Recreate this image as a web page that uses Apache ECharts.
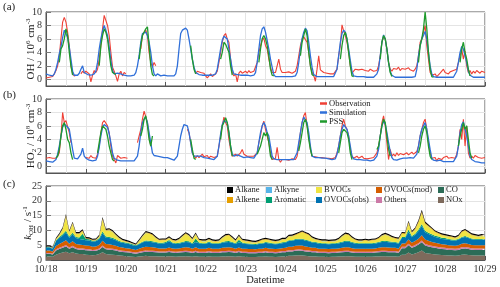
<!DOCTYPE html>
<html><head><meta charset="utf-8">
<script src="https://cdn.jsdelivr.net/npm/echarts@6/dist/echarts.min.js"></script>
<style>html,body{margin:0;padding:0;background:#fff}#c{width:500px;height:287px}</style>
</head><body><div id="c"></div>
<script>
const xTickLabels = ['10/18','10/19','10/20','10/21','10/22','10/23','10/24','10/25','10/26','10/27','10/28','10/29'];
const yTicksAB = [0, 2, 4, 6, 8, 10];
const yTicksC = [0, 5, 10, 15, 20, 25];

// hourly from 10/18 00:00 (265 values)
const ohSim = [
0.8,0.7,0.6,0.5,0.5,0.8,1.5,2.5,3.8,4.8,6.2,7.3,7.5,6.2,4.8,3.0,1.2,0.6,0.5,0.6,0.9,1.5,2.0,1.0,
0.8,0.7,0.7,0.6,0.6,0.8,1.2,2.5,4.5,6.0,7.2,8.0,7.8,6.5,4.8,2.8,1.3,0.8,0.8,0.9,1.0,0.8,0.7,0.6,
0.6,0.5,0.5,0.5,0.5,0.6,1.0,2.0,3.5,5.5,6.8,7.0,7.0,6.5,5.5,4.0,2.0,0.8,0.5,0.8,0.6,0.5,0.7,0.6,
0.5,0.5,0.5,0.5,0.5,0.5,0.8,2.0,4.5,6.8,7.3,7.5,7.6,7.3,6.0,4.5,3.0,1.8,1.0,0.8,0.7,0.7,0.6,0.6,
0.6,0.6,0.6,0.6,0.6,0.7,0.8,1.5,3.0,4.5,5.8,6.4,6.5,6.0,4.5,3.0,1.5,0.8,0.7,0.7,0.6,0.6,0.6,0.6,
0.6,0.6,0.6,0.5,0.5,0.6,1.0,2.5,4.5,6.5,7.5,7.8,7.0,5.8,4.5,3.0,1.8,0.7,0.4,0.4,0.4,0.4,0.4,0.4,
0.4,0.4,0.4,0.4,0.4,0.4,0.5,1.0,2.5,4.5,6.0,7.0,7.6,7.2,5.5,3.5,1.8,0.7,0.5,0.4,0.4,0.4,0.4,0.4,
0.4,0.4,0.4,0.4,0.4,0.4,0.6,1.5,3.5,5.5,6.8,7.3,7.0,6.0,4.5,2.8,1.2,0.5,0.4,0.4,0.4,0.4,0.4,0.4,
0.3,0.3,0.3,0.3,0.3,0.3,0.4,0.8,1.5,3.5,5.5,6.6,6.0,4.5,2.5,1.2,0.6,0.4,0.3,0.3,0.3,0.3,0.3,0.3,
0.3,0.3,0.3,0.3,0.3,0.3,0.4,1.5,3.5,5.0,6.0,6.5,7.1,6.0,4.0,2.0,0.8,0.4,0.3,0.3,0.3,0.3,0.3,0.3,
0.3,0.3,0.3,0.3,0.3,0.3,0.5,1.2,2.5,4.0,4.9,4.5,3.5,2.5,1.2,0.6,0.4,0.3,0.3,0.3,0.3,0.3,0.3,0.3,
0.3];
const ohObs = [
0.2,0.1,0.3,0.2,0.4,0.8,1.3,2.0,3.5,6.0,8.5,9.2,8.5,7.0,5.0,2.0,0.8,0.5,0.6,null,null,0.8,1.2,0.9,
1.2,1.0,0.8,-0.4,0.6,1.3,1.0,1.5,3.0,5.0,7.5,9.5,9.6,8.0,6.5,4.0,1.8,1.2,0.5,-0.3,0.8,1.2,0.5,1.0,
0.8,null,null,null,null,null,null,null,null,4.5,6.5,7.0,7.3,6.5,4.0,2.5,1.8,2.5,2.0,null,null,null,null,null,
null,null,null,null,null,null,null,null,null,null,null,null,null,null,null,null,null,null,0.8,1.2,1.3,1.0,1.2,0.9,
0.5,0.2,0.5,0.8,0.4,0.6,0.8,1.2,2.5,4.0,5.5,6.5,6.8,6.0,5.5,3.0,1.0,0.5,0.8,-0.4,0.9,1.2,0.9,1.0,
1.2,0.9,1.3,1.0,1.1,1.2,1.4,2.5,4.0,5.0,5.8,6.1,5.0,4.5,3.0,1.8,1.0,0.8,1.0,1.2,3.0,1.5,1.0,1.2,
1.0,0.8,1.1,1.2,0.9,1.0,1.2,2.0,3.5,5.0,6.0,6.3,6.5,5.5,4.0,2.0,1.0,0.6,-0.3,1.5,3.5,1.4,1.2,1.0,
0.8,0.9,0.7,0.8,1.0,0.8,0.9,1.5,3.5,5.0,8.1,7.2,6.5,5.5,4.0,2.0,0.9,1.2,1.5,1.3,1.4,1.2,1.5,1.3,
1.3,1.4,1.2,1.5,1.3,1.2,1.4,1.3,2.0,3.5,5.5,6.3,6.0,4.5,2.5,1.5,1.2,1.6,1.4,1.5,1.8,1.3,1.6,1.4,
1.5,1.3,1.7,1.4,1.6,1.2,1.5,2.0,3.5,5.5,6.0,7.0,8.0,5.0,3.0,1.0,0.6,0.5,0.8,0.4,0.6,0.9,1.0,1.5,
1.0,1.2,0.8,1.1,0.9,1.3,1.2,1.5,2.5,3.5,4.5,3.0,4.2,2.0,1.0,1.3,0.8,1.2,0.9,1.3,1.1,0.9,1.2,1.0,
1.0];
// [hour, value] pairs
const ohPss = [
[8,2.5],[9,4.5],[10,5.0],[11,6.0],[12,7.5],[13,6.5],[14,4.0],[15,2.0],[16,0.6],
[32,2.0],[33,5.0],[34,6.5],[35,7.5],[36,7.0],[37,6.0],[38,4.0],[39,2.0],[40,1.0],[41,0.8],[42,0.7],
[56,3.0],[57,5.0],[58,6.5],[59,7.0],[60,7.5],[61,7.8],[62,5.0],[63,2.0],[64,0.7],[65,0.5],
[87,5.0],[88,3.0],[89,1.5],[90,0.8],
[105,3.0],[106,4.0],[107,5.5],[108,5.2],[109,5.0],[110,4.0],[111,2.0],[112,0.6],
[128,2.5],[129,4.5],[130,6.0],[131,6.5],[132,6.0],[133,5.0],[134,3.5],[135,1.5],[136,0.6],[137,0.5],
[153,3.5],[154,5.5],[155,6.5],[156,7.5],[157,6.5],[158,4.0],[159,2.0],[160,0.7],[161,0.5],
[177,3.0],[178,5.0],[179,6.5],[180,7.0],[181,6.0],[182,4.0],[183,2.0],[184,0.5],[185,0.4],
[201,3.0],[202,5.5],[203,6.5],[204,6.0],[205,4.5],[206,2.5],[207,1.0],[208,0.4],
[224,2.5],[225,5.0],[226,6.0],[227,7.5],[228,10.0],[229,7.5],[230,4.0],[231,1.5],[232,0.4],[233,0.3],
[249,2.5],[250,4.5],[251,5.5],[252,4.0],[253,3.0],[254,1.5],[255,0.5]];

const ho2Sim = [
0.8,0.7,0.7,0.6,0.6,0.7,1.0,1.8,3.0,4.5,5.8,6.3,6.5,5.8,5.5,4.0,2.5,1.2,1.0,1.1,1.2,1.8,2.7,1.5,
1.2,1.0,0.9,0.9,0.8,0.8,0.9,1.5,2.8,4.5,5.8,6.2,6.3,5.8,4.8,3.5,2.0,1.2,1.0,0.9,0.9,0.8,0.8,0.8,
0.8,0.8,0.8,0.8,0.8,0.8,0.9,1.5,3.0,5.0,6.5,7.0,7.3,6.5,5.0,3.5,2.0,1.6,1.5,1.5,1.5,1.4,1.4,1.3,
1.3,1.3,1.2,1.1,1.0,0.9,1.0,1.5,3.0,4.5,5.5,6.2,6.3,6.0,5.0,3.5,2.0,1.5,1.6,1.5,1.4,1.5,1.4,1.3,
1.3,1.2,1.2,1.1,1.0,1.0,0.9,1.5,3.0,4.8,6.2,6.8,7.0,6.5,5.0,3.0,1.8,1.5,1.6,1.7,1.6,1.5,1.4,1.3,
1.5,1.4,1.3,1.3,1.2,1.2,1.4,2.0,3.5,5.0,6.0,6.5,6.0,5.0,4.5,3.0,1.5,1.1,1.0,1.0,1.1,1.0,1.0,1.0,
1.0,1.0,1.0,1.0,1.0,1.0,1.2,2.0,3.5,5.0,6.5,7.3,7.3,6.5,5.0,3.0,1.5,1.3,1.3,1.2,1.3,1.2,1.2,1.2,
1.2,1.1,1.1,1.0,1.0,1.0,1.1,1.8,3.0,4.5,5.5,6.2,6.0,5.5,4.5,3.0,1.5,1.1,1.0,1.0,1.0,1.0,0.9,0.9,
0.9,0.9,0.8,0.8,0.8,0.9,1.0,1.5,2.5,4.5,6.0,6.7,6.3,5.0,3.5,2.2,1.3,1.0,0.9,0.9,1.0,1.1,1.3,1.2,
1.2,1.2,1.3,1.3,1.2,1.2,1.3,1.8,3.0,4.5,5.5,6.0,6.5,5.5,4.0,2.5,1.2,0.9,0.8,0.8,0.8,0.9,0.8,0.7,
0.7,0.7,0.7,0.7,0.7,0.7,0.8,1.5,3.0,5.0,6.2,6.6,5.5,4.5,3.0,1.5,1.0,0.8,0.7,0.6,0.6,0.5,0.5,0.5,
0.5];
const ho2Obs = [
1.2,1.0,1.3,1.1,1.2,1.4,1.2,1.5,2.0,4.5,8.0,6.5,6.8,7.0,5.0,3.5,null,null,null,null,null,null,null,null,
1.3,1.5,1.2,1.6,1.3,1.5,1.2,1.8,3.0,5.0,6.5,6.8,7.0,6.0,5.0,3.0,1.5,1.0,0.5,1.6,1.8,1.2,1.0,1.3,
1.5,1.2,null,null,null,null,null,3.5,4.5,5.5,7.0,8.2,8.0,6.5,4.5,3.0,null,null,null,null,null,null,null,null,
null,null,null,null,null,null,null,null,null,null,null,null,null,5.5,5.0,3.5,2.0,1.5,1.2,1.6,1.3,1.5,1.8,1.4,
1.3,1.6,1.2,1.5,1.4,1.3,1.2,1.5,3.0,4.5,6.0,7.3,6.5,6.0,4.0,2.5,1.5,1.6,1.8,1.5,1.7,2.0,2.5,1.8,
1.6,1.5,1.4,1.5,1.6,1.5,1.5,2.0,3.5,4.5,6.0,6.7,5.5,4.5,3.5,2.0,1.0,0.8,1.2,2.8,1.0,0.6,1.0,1.1,
1.0,1.1,0.9,1.0,1.1,1.0,1.0,1.5,3.0,5.0,6.5,7.5,8.0,6.0,4.5,2.5,1.5,1.3,1.4,1.2,1.3,1.4,1.3,1.2,
1.2,1.1,1.2,1.3,1.1,1.2,1.3,2.0,3.0,4.5,6.0,7.0,6.0,5.5,4.5,2.5,1.5,1.2,1.4,1.5,1.2,1.3,1.5,1.2,
1.2,1.1,1.3,1.2,1.4,1.3,1.5,2.0,3.0,4.5,6.5,7.5,6.0,3.5,1.0,2.5,1.5,1.8,1.5,2.0,1.6,1.9,2.1,1.7,
1.8,2.0,1.7,1.9,2.1,1.8,1.9,2.2,3.0,4.5,5.5,6.5,7.0,5.5,3.5,2.0,1.2,1.0,1.3,0.8,1.2,1.4,1.0,1.3,
1.3,1.5,1.2,1.4,1.3,1.5,1.2,1.8,3.0,5.5,4.0,7.0,3.0,6.0,2.0,1.2,1.5,1.2,1.6,1.4,1.3,1.5,1.2,1.4,
1.3];
const ho2Pss = [
[6,1.2],[7,1.5],[8,2.5],[9,4.5],[10,6.0],[11,6.5],[12,5.5],[13,4.0],[14,3.5],[15,2.0],[16,1.0],
[31,2.0],[32,3.5],[33,5.0],[34,6.0],[35,6.0],[36,5.5],[37,4.5],[38,3.0],[39,2.0],[40,1.0],[41,0.8],
[57,4.5],[58,5.5],[59,7.0],[60,7.5],[61,6.0],[62,4.0],[63,3.0],[64,4.5],
[87,4.0],[88,2.5],[89,1.2],[90,1.0],
[105,4.0],[106,6.0],[107,6.5],[108,7.2],[109,6.5],[110,5.0],[111,3.0],[112,1.5],
[127,1.8],[128,2.0],[129,3.0],[130,4.0],[131,5.0],[132,4.5],[133,5.0],[134,3.5],[135,1.5],[136,1.0],
[152,2.3],[153,3.5],[154,5.0],[155,6.5],[156,7.0],[157,6.0],[158,4.0],[159,2.5],[160,1.5],
[176,2.0],[177,3.5],[178,5.0],[179,5.5],[180,5.5],[181,5.0],[182,4.0],[183,2.0],[184,1.0],
[199,2.5],[200,3.0],[201,4.5],[202,6.0],[203,7.0],[204,6.5],[205,4.5],[206,2.5],[207,1.5],
[224,2.0],[225,3.0],[226,4.5],[227,5.5],[228,6.0],[229,5.0],[230,3.0],[231,1.5],[232,1.0],
[248,3.0],[249,4.5],[250,5.5],[251,6.5],[252,5.5],[253,6.0],[254,4.0],[255,2.0],[256,1.2]];

// kOH components, every 2 h from 10/18 00:00 (133 values)
const kNOx = [
1.2,1.2,1.1,1.8,2.2,2.5,2.8,2.3,2.6,2.2,2.0,2.0,
1.8,1.7,1.6,1.7,2.0,2.6,2.0,1.9,1.8,1.7,1.5,1.4,
1.3,1.2,1.1,1.0,1.2,1.3,1.4,1.3,1.3,1.3,1.2,1.2,
1.2,1.3,1.2,1.1,1.2,1.2,1.3,1.2,1.1,1.3,1.1,1.1,
1.1,1.2,1.1,1.1,1.1,1.2,1.2,1.3,1.2,1.1,1.3,1.1,
1.1,1.0,1.0,1.0,1.1,1.1,1.2,1.1,1.1,1.0,1.1,1.2,
1.2,1.4,1.4,1.5,1.6,1.5,1.4,1.3,1.2,1.2,1.1,1.1,
1.1,1.0,1.1,1.1,1.2,1.2,1.3,1.3,1.2,1.1,1.1,1.1,
1.1,1.1,1.1,1.2,1.2,1.3,1.3,1.2,1.2,1.2,1.1,1.8,
1.8,2.5,1.9,2.2,2.6,3.2,2.4,2.2,2.0,1.9,1.8,1.7,
1.6,1.5,1.5,1.4,1.5,1.8,1.9,1.7,1.6,1.5,1.5,1.5,
1.5];
const kCO = [
0.9,0.9,0.8,1.4,1.5,1.6,1.8,1.5,1.7,1.5,1.5,1.5,
1.5,1.5,1.4,1.4,1.5,1.8,1.6,1.6,1.6,1.5,1.4,1.3,
1.3,1.3,1.2,1.1,1.2,1.3,1.4,1.4,1.4,1.3,1.3,1.3,
1.3,1.4,1.3,1.3,1.3,1.4,1.4,1.4,1.3,1.4,1.3,1.3,
1.3,1.4,1.3,1.3,1.3,1.4,1.4,1.4,1.4,1.3,1.4,1.3,
1.3,1.3,1.3,1.3,1.3,1.3,1.4,1.3,1.3,1.3,1.3,1.4,
1.4,1.5,1.5,1.6,1.6,1.6,1.5,1.5,1.4,1.4,1.3,1.3,
1.3,1.3,1.3,1.3,1.3,1.4,1.4,1.4,1.3,1.3,1.3,1.3,
1.3,1.3,1.3,1.3,1.4,1.4,1.4,1.4,1.4,1.4,1.3,2.2,
2.2,2.5,2.2,2.4,2.6,2.8,2.5,2.4,2.3,2.2,2.1,2.0,
2.0,1.9,1.9,1.9,1.9,2.0,2.0,2.0,1.9,1.9,1.9,1.9,
1.9];
const kOthers = [
0.3,0.3,0.3,0.4,0.4,0.5,0.5,0.4,0.5,0.4,0.4,0.4,
0.4,0.4,0.4,0.4,0.4,0.5,0.4,0.4,0.4,0.4,0.4,0.4,
0.4,0.4,0.4,0.4,0.4,0.4,0.4,0.4,0.4,0.4,0.4,0.4,
0.4,0.4,0.4,0.4,0.4,0.4,0.4,0.4,0.4,0.4,0.4,0.4,
0.4,0.4,0.4,0.4,0.4,0.4,0.4,0.4,0.4,0.4,0.4,0.4,
0.4,0.4,0.4,0.4,0.4,0.4,0.4,0.4,0.4,0.4,0.4,0.4,
0.4,0.4,0.4,0.4,0.4,0.4,0.4,0.4,0.4,0.4,0.4,0.4,
0.4,0.4,0.4,0.4,0.4,0.4,0.4,0.4,0.4,0.4,0.4,0.4,
0.4,0.4,0.4,0.4,0.4,0.4,0.4,0.4,0.4,0.4,0.4,0.5,
0.5,0.5,0.5,0.5,0.5,0.6,0.5,0.5,0.5,0.5,0.5,0.5,
0.5,0.5,0.5,0.5,0.5,0.5,0.5,0.5,0.5,0.5,0.5,0.5,
0.5];
const kOVOCsMod = [
0.8,0.8,0.7,1.1,1.3,1.4,1.6,1.3,1.5,1.3,1.3,1.2,
1.2,1.2,1.1,1.1,1.2,1.6,1.4,1.4,1.3,1.2,1.1,1.1,
1.0,1.0,0.9,0.9,1.0,1.2,1.3,1.3,1.2,1.1,1.0,1.0,
1.0,1.1,1.0,1.0,1.0,1.1,1.2,1.2,1.0,1.2,1.0,1.0,
1.0,1.1,1.0,1.0,1.0,1.1,1.2,1.2,1.1,1.0,1.1,1.0,
1.0,1.0,1.0,0.9,1.0,1.0,1.1,1.1,1.0,1.0,1.0,1.0,
1.1,1.2,1.2,1.3,1.3,1.4,1.3,1.2,1.1,1.1,1.0,1.0,
1.0,1.0,1.0,1.0,1.0,1.1,1.2,1.2,1.1,1.0,1.0,1.0,
1.0,1.0,1.0,1.0,1.1,1.2,1.2,1.2,1.1,1.1,1.0,1.1,
1.1,1.4,1.2,1.3,1.5,1.8,1.5,1.4,1.3,1.2,1.2,1.1,
1.1,1.1,1.0,1.0,1.1,1.2,1.3,1.2,1.1,1.1,1.1,1.1,
1.1];
const kOVOCsObs = [
1.0,1.0,0.9,1.6,2.0,2.2,2.6,2.0,2.3,2.0,1.9,1.8,
1.8,1.8,1.7,1.7,1.9,2.5,2.1,2.1,2.0,1.9,1.7,1.6,
1.6,1.5,1.4,1.3,1.5,1.7,1.8,1.8,1.7,1.7,1.6,1.6,
1.85,2.15,1.75,1.6,1.6,1.7,1.8,1.8,1.6,1.8,1.85,1.6,
1.6,1.85,1.6,1.6,1.6,1.7,1.8,1.8,1.7,1.6,1.8,1.85,
1.6,1.6,1.5,1.5,1.6,1.6,1.7,1.7,1.6,1.6,1.6,1.7,
1.7,1.9,1.9,2.0,2.0,2.0,1.9,1.9,1.8,1.7,1.7,1.6,
1.6,1.6,1.6,1.6,1.7,1.8,1.9,1.9,1.8,1.7,1.6,1.6,
1.6,1.6,1.6,1.6,1.7,1.8,1.9,1.8,1.8,1.7,1.7,1.8,
1.8,2.6,1.9,2.1,2.6,3.2,2.5,2.3,2.2,2.0,1.9,1.8,
1.8,1.8,1.7,1.7,1.8,2.0,2.1,2.0,1.9,1.8,1.8,1.8,
1.8];
const kAromatic = [
0.2,0.2,0.2,0.4,0.4,0.5,0.6,0.4,0.6,0.4,0.5,2.0,
0.4,0.4,0.3,0.3,0.4,0.6,0.4,0.4,0.4,0.3,0.3,0.3,
0.3,0.3,0.3,0.25,0.3,0.3,0.3,0.3,0.3,0.3,0.3,0.3,
0.3,0.4,0.3,0.3,0.3,0.3,0.3,0.3,0.3,1.2,0.3,0.3,
0.3,0.3,0.3,0.3,0.3,0.3,0.3,0.3,0.3,0.3,0.8,0.3,
0.3,0.3,0.3,0.3,0.3,0.3,0.3,0.3,0.3,0.3,0.3,0.3,
0.3,0.3,0.3,0.3,0.3,0.3,0.3,0.3,0.3,0.3,0.3,0.3,
0.3,0.3,0.3,0.3,0.3,0.3,0.3,0.3,0.3,0.3,0.3,0.3,
0.3,0.3,0.3,0.3,0.3,0.3,0.3,0.3,0.3,0.3,0.3,0.4,
0.4,0.8,0.4,0.4,0.5,0.6,0.5,0.4,0.4,0.4,0.4,0.4,
0.4,0.3,0.3,0.3,0.3,0.3,0.3,0.3,0.3,0.3,0.3,0.3,
0.3];
const kBVOCs = [
0,0,0,0.2,0.6,1.6,4.6,1.4,3.0,1.0,1.2,0.8,
0,0,0.05,0.05,0.5,3.9,1.9,2.2,2.0,1.3,0.9,0.4,
0.25,0.15,0.1,0.05,0.75,1.65,2.55,2.35,2.05,1.25,0.75,0.85,
0.6,0.6,0.6,0.65,1.05,1.75,2.35,1.85,1.15,1.35,0.6,0.65,
0.65,0.6,0.65,0.45,0.65,1.25,1.85,1.85,1.25,0.65,1.15,0.6,
0.65,0.55,0.45,0.45,0.45,0.95,0.75,0.75,0.65,0.55,0.65,0.85,
0.75,1.15,1.25,1.25,1.65,2.15,2.05,1.75,1.15,0.75,0.75,0.65,
0.65,0.55,0.55,0.65,0.95,1.65,2.15,1.85,1.25,0.85,0.65,0.65,
0.85,0.65,0.85,0.85,1.05,1.75,2.05,1.85,1.35,1.05,1.15,1.05,
0.95,2.05,1.05,1.35,2.25,3.6,2.25,2.05,1.65,1.15,0.95,0.85,
0.75,0.75,0.75,0.55,0.75,1.55,1.75,1.45,1.05,1.05,0.75,1.05,
0.75];
const kAlkyne = [
0.05,0.05,0.05,0.05,0.05,0.05,0.1,0.05,0.05,0.05,0.05,0.05,
0.05,0.05,0.05,0.05,0.05,0.1,0.05,0.05,0.05,0.05,0.05,0.05,
0.05,0.05,0.05,0.05,0.05,0.05,0.05,0.05,0.05,0.05,0.05,0.05,
0.05,0.05,0.05,0.05,0.05,0.05,0.05,0.05,0.05,0.05,0.05,0.05,
0.05,0.05,0.05,0.05,0.05,0.05,0.05,0.05,0.05,0.05,0.05,0.05,
0.05,0.05,0.05,0.05,0.05,0.05,0.05,0.05,0.05,0.05,0.05,0.05,
0.05,0.05,0.05,0.05,0.05,0.05,0.05,0.05,0.05,0.05,0.05,0.05,
0.05,0.05,0.05,0.05,0.05,0.05,0.05,0.05,0.05,0.05,0.05,0.05,
0.05,0.05,0.05,0.05,0.05,0.05,0.05,0.05,0.05,0.05,0.05,0.05,
0.05,0.05,0.05,0.05,0.05,0.1,0.05,0.05,0.05,0.05,0.05,0.05,
0.05,0.05,0.05,0.05,0.05,0.05,0.05,0.05,0.05,0.05,0.05,0.05,
0.05];
const kAlkene = [
0.15,0.15,0.15,0.2,0.2,0.3,0.4,0.3,0.3,0.2,0.2,0.2,
0.2,0.2,0.2,0.2,0.2,0.4,0.3,0.3,0.2,0.2,0.2,0.2,
0.2,0.2,0.2,0.2,0.2,0.2,0.2,0.2,0.2,0.2,0.2,0.2,
0.2,0.2,0.2,0.2,0.2,0.2,0.2,0.2,0.2,0.2,0.2,0.2,
0.2,0.2,0.2,0.2,0.2,0.2,0.2,0.2,0.2,0.2,0.2,0.2,
0.2,0.2,0.2,0.2,0.2,0.2,0.2,0.2,0.2,0.2,0.2,0.2,
0.2,0.2,0.2,0.2,0.2,0.2,0.2,0.2,0.2,0.2,0.2,0.2,
0.2,0.2,0.2,0.2,0.2,0.2,0.2,0.2,0.2,0.2,0.2,0.2,
0.2,0.2,0.2,0.2,0.2,0.2,0.2,0.2,0.2,0.2,0.2,0.2,
0.2,0.4,0.2,0.3,0.4,0.5,0.3,0.3,0.2,0.2,0.2,0.2,
0.2,0.2,0.2,0.2,0.2,0.2,0.2,0.2,0.2,0.2,0.2,0.2,
0.2];
const kAlkane = [
0.3,0.3,0.3,0.4,0.4,0.4,0.5,0.4,0.4,0.4,0.4,0.4,
0.4,0.4,0.4,0.4,0.4,0.5,0.4,0.4,0.4,0.4,0.4,0.4,
0.4,0.4,0.35,0.3,0.4,0.4,0.4,0.4,0.4,0.4,0.4,0.4,
0.4,0.4,0.4,0.4,0.4,0.4,0.4,0.4,0.4,0.4,0.4,0.4,
0.4,0.4,0.4,0.4,0.4,0.4,0.4,0.4,0.4,0.4,0.4,0.4,
0.4,0.4,0.4,0.4,0.4,0.4,0.4,0.4,0.4,0.4,0.4,0.4,
0.4,0.4,0.4,0.4,0.4,0.4,0.4,0.4,0.4,0.4,0.4,0.4,
0.4,0.4,0.4,0.4,0.4,0.4,0.4,0.4,0.4,0.4,0.4,0.4,
0.4,0.4,0.4,0.4,0.4,0.4,0.4,0.4,0.4,0.4,0.4,0.4,
0.4,0.5,0.4,0.4,0.5,0.6,0.5,0.4,0.4,0.4,0.4,0.4,
0.4,0.4,0.4,0.4,0.4,0.4,0.4,0.4,0.4,0.4,0.4,0.4,
0.4];

const FONT = 'Liberation Serif';
const C_OBS = '#ef4136', C_SIM = '#2f6fd9', C_PSS = '#1f9a2c';
const hourly = arr => arr.map((v, i) => [i, v]);
function withGaps(pairs) {
  const out = [];
  pairs.forEach((p, i) => {
    if (i > 0 && p[0] - pairs[i - 1][0] > 1) out.push([pairs[i - 1][0] + 0.5, null]);
    out.push(p);
  });
  return out;
}
const kHours = kNOx.map((v, i) => String(i * 2));
const gridLine = { show: true, lineStyle: { color: '#e4e4e4', width: 1 } };
function xAx(i) {
  return {
    type: 'value', gridIndex: i, min: 0, max: 264, interval: 24,
    axisLine: { show: true, onZero: false, lineStyle: { color: '#555' } },
    axisTick: { show: true, inside: true, length: 4, lineStyle: { color: '#555' } },
    axisLabel: { show: false },
    splitLine: gridLine,
    minorTick: { show: false, splitNumber: 2 },
    minorSplitLine: gridLine
  };
}
const xAxC = {
  type: 'category', gridIndex: 2, data: kHours, boundaryGap: false,
  axisLine: { show: true, onZero: false, lineStyle: { color: '#555' } },
  axisTick: { show: true, inside: true, length: 4, interval: (idx) => idx % 12 === 0, lineStyle: { color: '#555' } },
  axisLabel: { show: true, interval: (idx) => idx % 12 === 0, margin: 4, fontSize: 10, fontFamily: FONT, color: '#333',
    formatter: v => xTickLabels[Math.round(Number(v) / 24)] },
  splitLine: { show: true, interval: (idx) => idx % 6 === 0, lineStyle: { color: '#e4e4e4', width: 1 } },
  name: 'Datetime', nameLocation: 'middle', nameGap: 15, nameMoveOverlap: false,
  nameTextStyle: { fontSize: 10.5, fontFamily: FONT, color: '#222' }
};
const richName = {
  n: { fontSize: 11, fontFamily: FONT, color: '#222' },
  i: { fontSize: 11, fontFamily: FONT, color: '#222', fontStyle: 'italic' },
  s: { fontSize: 7, fontFamily: FONT, color: '#222', verticalAlign: 'top', padding: [0, 0, 6, 0] },
  b: { fontSize: 7, fontFamily: FONT, color: '#222', verticalAlign: 'bottom', padding: [4, 0, 0, 0] }
};
function yAx(i, min, max, interval, labelStep, ticks, name, gap) {
  return {
    type: 'value', gridIndex: i, min: min, max: max, interval: interval,
    axisLine: { show: true, lineStyle: { color: '#555' } },
    axisTick: { show: true, inside: true, length: 5, customValues: ticks, lineStyle: { color: '#777' } },
    axisLabel: { margin: 4, fontSize: 10, fontFamily: FONT, color: '#333',
      formatter: v => (v >= 0 && Math.abs(v / labelStep - Math.round(v / labelStep)) < 1e-6) ? String(v) : '' },
    splitLine: gridLine,
    name: name, nameLocation: 'middle', nameGap: gap, nameMoveOverlap: false,
    nameTextStyle: { rich: richName }
  };
}
function lineS(name, data, color, xi, w) {
  return { name: name, type: 'line', xAxisIndex: xi, yAxisIndex: xi, data: data,
    showSymbol: false, symbol: 'none', connectNulls: false,
    lineStyle: { color: color, width: w }, itemStyle: { color: color } };
}
const stackDefs = [
  ['NOx', kNOx, '#7e6a5c'],
  ['CO', kCO, '#2c6c57'],
  ['Others', kOthers, '#cc79a7'],
  ['OVOCs(mod)', kOVOCsMod, '#d55e00'],
  ['OVOCs(obs)', kOVOCsObs, '#0072b2'],
  ['Aromatic', kAromatic, '#009e73'],
  ['BVOCs', kBVOCs, '#f0e442'],
  ['Alkyne', kAlkyne, '#56b4e9'],
  ['Alkene', kAlkene, '#e69f00'],
  ['Alkane', kAlkane, '#000000']
];
const stackSeries = stackDefs.map(d => ({
  name: d[0], type: 'line', xAxisIndex: 2, yAxisIndex: 2, stack: 'k',
  data: d[1], showSymbol: false, symbol: 'none',
  lineStyle: { width: 0, color: d[2] }, itemStyle: { color: d[2] },
  areaStyle: { color: d[2], opacity: 1 }
}));
const legText = { fontSize: 8.5, fontFamily: FONT, color: '#222', padding: [0, 0, 0, -3] };
function legCol(left, names) {
  return { orient: 'vertical', left: left, top: 185, padding: 0, itemGap: 0,
    icon: 'rect', itemWidth: 6, itemHeight: 6, data: names,
    textStyle: Object.assign({ lineHeight: 10 }, legText) };
}
const chart = echarts.init(document.getElementById('c'), null, { renderer: 'canvas' });
chart.setOption({
  animation: false,
  backgroundColor: '#fff',
  textStyle: { fontFamily: FONT },
  grid: [
    { left: 46, right: 15, top: 12, height: 74, show: true, borderColor: '#555', borderWidth: 1 },
    { left: 46, right: 15, top: 99, height: 74, show: true, borderColor: '#555', borderWidth: 1 },
    { left: 46, right: 15, top: 186, height: 75, show: true, borderColor: '#555', borderWidth: 1 }
  ],
  xAxis: [xAx(0), xAx(1), xAxC],
  yAxis: [
    yAx(0, -1, 10, 1, 2, yTicksAB, '{n|OH / 10}{s|6}{n| cm}{s|-3}', 8),
    yAx(1, -1, 10, 1, 2, yTicksAB, '{n|HO}{b|2}{n| / 10}{s|8}{n| cm}{s|-3}', 8),
    yAx(2, 0, 25, 2.5, 5, yTicksC, '{i|k}{b|OH}{n| / s}{s|-1}', 11)
  ],
  legend: [
    { orient: 'vertical', left: 320, top: 99, padding: 0, itemGap: 0, icon: 'rect',
      itemWidth: 7, itemHeight: 2.5, data: ['Observation', 'Simulation', 'PSS'],
      textStyle: Object.assign({ lineHeight: 8 }, legText) },
    legCol(227, ['Alkane', 'Alkene']),
    legCol(266, ['Alkyne', 'Aromatic']),
    legCol(316, ['BVOCs', 'OVOCs(obs)']),
    legCol(376, ['OVOCs(mod)', 'Others']),
    legCol(438, ['CO', 'NOx'])
  ],
  graphic: [
    { type: 'text', left: 3, top: 2, style: { text: '(a)', font: '11px "Liberation Serif"', fill: '#222' } },
    { type: 'text', left: 3, top: 90, style: { text: '(b)', font: '11px "Liberation Serif"', fill: '#222' } },
    { type: 'text', left: 3, top: 179, style: { text: '(c)', font: '11px "Liberation Serif"', fill: '#222' } }
  ],
  series: [
    lineS('Observation', hourly(ohObs), C_OBS, 0, 1.1),
    lineS('Simulation', hourly(ohSim), C_SIM, 0, 1.3),
    lineS('PSS', withGaps(ohPss), C_PSS, 0, 1.3),
    lineS('Observation', hourly(ho2Obs), C_OBS, 1, 1.1),
    lineS('Simulation', hourly(ho2Sim), C_SIM, 1, 1.3),
    lineS('PSS', withGaps(ho2Pss), C_PSS, 1, 1.3)
  ].concat(stackSeries)
});
</script></body></html>
